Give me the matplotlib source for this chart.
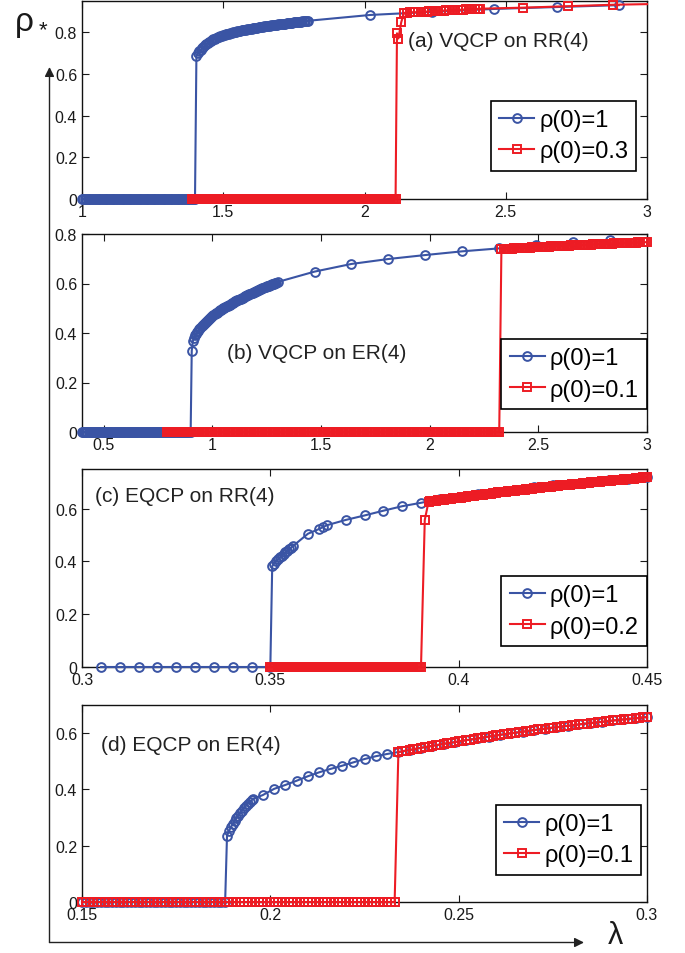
import numpy as np
import matplotlib
matplotlib.use('Agg')
import matplotlib.pyplot as plt
from matplotlib.patches import FancyArrowPatch

plt.rcParams['font.family'] = ['Liberation Sans', 'DejaVu Sans']

BLUE = '#3A54A4'
RED = '#ED1C24'
TXT = '#1a1a1a'

# ---------------- Panel (a) VQCP on RR(4) ----------------
a_blue_zero_x = np.linspace(1.00, 1.40, 81)
a_blue_rise_y = [0.700, 0.708, 0.715, 0.723, 0.730, 0.738, 0.745, 0.750, 0.755, 0.759,
                 0.763, 0.767, 0.770, 0.773, 0.776, 0.779, 0.781, 0.784, 0.786, 0.788,
                 0.790, 0.792, 0.794, 0.796, 0.798, 0.800, 0.801, 0.803, 0.804, 0.806,
                 0.807, 0.809, 0.810, 0.812, 0.813, 0.814, 0.815, 0.817, 0.818, 0.819,
                 0.820, 0.821, 0.822, 0.824, 0.825, 0.826, 0.827, 0.828, 0.829, 0.830,
                 0.831, 0.832, 0.833, 0.834, 0.835, 0.836, 0.837, 0.838, 0.839, 0.840,
                 0.840, 0.841, 0.842, 0.843, 0.844, 0.845, 0.846, 0.846, 0.847, 0.848,
                 0.849, 0.850, 0.851, 0.851, 0.852, 0.853, 0.854, 0.854, 0.855]
a_blue_rise_x = np.linspace(1.41, 1.80, len(a_blue_rise_y))
a_blue_jump_x = [1.405]
a_blue_jump_y = [0.688]
a_blue_sparse_x = [2.02, 2.24, 2.46, 2.68, 2.90]
a_blue_sparse_y = [0.883, 0.898, 0.912, 0.921, 0.930]

a_red_zero_x = np.linspace(1.39, 2.11, 145)
a_red_jump_x = [2.115, 2.12, 2.13]
a_red_jump_y = [0.795, 0.770, 0.848]
a_red_band_y = [0.893, 0.894, 0.895, 0.896, 0.896, 0.897, 0.898, 0.899, 0.899, 0.900,
                0.901, 0.902, 0.902, 0.903, 0.904, 0.905, 0.905, 0.906, 0.907, 0.908,
                0.908, 0.909, 0.910, 0.910, 0.911, 0.912, 0.912, 0.913]
a_red_band_x = np.linspace(2.14, 2.41, len(a_red_band_y))
a_red_sparse_x = [2.56, 2.72, 2.88, 3.00]
a_red_sparse_y = [0.918, 0.925, 0.932, 0.935]

# ---------------- Panel (b) VQCP on ER(4) ----------------
b_blue_zero_x = np.linspace(0.40, 0.90, 101)
b_blue_jump_x = [0.905, 0.91, 0.915]
b_blue_jump_y = [0.328, 0.366, 0.380]
b_blue_rise_y = [0.390, 0.397, 0.404, 0.410, 0.416, 0.422, 0.427, 0.432, 0.437, 0.442,
                 0.446, 0.450, 0.454, 0.458, 0.462, 0.466, 0.469, 0.473, 0.476, 0.479,
                 0.482, 0.485, 0.488, 0.491, 0.494, 0.497, 0.500, 0.503, 0.505, 0.508,
                 0.510, 0.513, 0.515, 0.518, 0.520, 0.523, 0.525, 0.528, 0.530, 0.532,
                 0.534, 0.537, 0.539, 0.541, 0.543, 0.546, 0.548, 0.550, 0.552, 0.554,
                 0.556, 0.558, 0.560, 0.562, 0.564, 0.566, 0.568, 0.570, 0.572, 0.574,
                 0.576, 0.578, 0.580, 0.582, 0.584, 0.586, 0.588, 0.590, 0.591, 0.593,
                 0.595, 0.597, 0.599, 0.600, 0.602, 0.604, 0.606]
b_blue_rise_x = np.linspace(0.92, 1.30, len(b_blue_rise_y))
b_blue_sparse_x = [1.47, 1.64, 1.81, 1.98, 2.15, 2.32, 2.49, 2.66, 2.83]
b_blue_sparse_y = [0.648, 0.679, 0.699, 0.715, 0.730, 0.742, 0.755, 0.766, 0.776]

b_red_zero_x = np.linspace(0.79, 2.32, 154)
b_red_up_y = [0.739, 0.739, 0.740, 0.740, 0.741, 0.741, 0.742, 0.742, 0.743, 0.743,
              0.744, 0.744, 0.745, 0.745, 0.746, 0.746, 0.747, 0.747, 0.748, 0.748,
              0.748, 0.749, 0.749, 0.750, 0.750, 0.751, 0.751, 0.752, 0.752, 0.752,
              0.753, 0.753, 0.754, 0.754, 0.755, 0.755, 0.755, 0.756, 0.756, 0.757,
              0.757, 0.757, 0.758, 0.758, 0.759, 0.759, 0.759, 0.760, 0.760, 0.761,
              0.761, 0.761, 0.762, 0.762, 0.762, 0.763, 0.763, 0.764, 0.764, 0.764,
              0.765, 0.765, 0.765, 0.766, 0.766, 0.766, 0.767, 0.767]
b_red_up_x = np.linspace(2.33, 3.00, len(b_red_up_y))

# ---------------- Panel (c) EQCP on RR(4) ----------------
c_blue_zero_x = np.linspace(0.305, 0.350, 10)
c_blue_rise_y = [0.382, 0.392, 0.400, 0.408, 0.415, 0.422, 0.428, 0.435, 0.441, 0.447, 0.452, 0.458]
c_blue_rise_x = np.linspace(0.3505, 0.356, len(c_blue_rise_y))
c_blue_sparse_x = [0.360, 0.363, 0.364, 0.365, 0.370, 0.375, 0.380, 0.385, 0.390,
                   0.395, 0.400, 0.405, 0.410, 0.415, 0.420, 0.425, 0.430, 0.435, 0.440, 0.445, 0.450]
c_blue_sparse_y = [0.505, 0.523, 0.530, 0.537, 0.557, 0.574, 0.592, 0.609, 0.622,
                   0.636, 0.645, 0.654, 0.663, 0.672, 0.680, 0.688, 0.695, 0.702, 0.708, 0.713, 0.718]

c_red_zero_x = np.linspace(0.350, 0.390, 81)
c_red_jump_x = [0.391]
c_red_jump_y = [0.557]
c_red_up_y = [0.626, 0.627, 0.628, 0.629, 0.630, 0.631, 0.632, 0.633, 0.634, 0.635,
              0.636, 0.637, 0.638, 0.639, 0.640, 0.641, 0.642, 0.642, 0.643, 0.644,
              0.645, 0.646, 0.647, 0.648, 0.649, 0.650, 0.651, 0.652, 0.653, 0.653,
              0.654, 0.655, 0.656, 0.657, 0.658, 0.659, 0.660, 0.661, 0.662, 0.662,
              0.663, 0.664, 0.665, 0.666, 0.667, 0.667, 0.668, 0.669, 0.670, 0.671,
              0.672, 0.672, 0.673, 0.674, 0.675, 0.676, 0.677, 0.677, 0.678, 0.679,
              0.680, 0.680, 0.681, 0.682, 0.683, 0.683, 0.684, 0.685, 0.686, 0.687,
              0.688, 0.688, 0.689, 0.690, 0.691, 0.691, 0.692, 0.693, 0.694, 0.694,
              0.695, 0.695, 0.696, 0.697, 0.698, 0.698, 0.699, 0.700, 0.701, 0.701,
              0.702, 0.702, 0.703, 0.704, 0.705, 0.705, 0.706, 0.706, 0.707, 0.708,
              0.709, 0.709, 0.710, 0.710, 0.711, 0.712, 0.713, 0.713, 0.714, 0.714,
              0.715, 0.715, 0.716, 0.717, 0.718, 0.718, 0.719]
c_red_up_x = np.linspace(0.392, 0.450, len(c_red_up_y))

# ---------------- Panel (d) EQCP on ER(4) ----------------
d_blue_zero_x = np.linspace(0.150, 0.188, 39)
d_blue_rise_y = [0.236, 0.252, 0.265, 0.277, 0.287, 0.298, 0.307, 0.316, 0.325, 0.333,
                 0.341, 0.348, 0.355, 0.361, 0.367]
d_blue_rise_x = np.linspace(0.1885, 0.1955, len(d_blue_rise_y))
d_blue_sparse_y = [0.380, 0.402, 0.416, 0.431, 0.447, 0.461, 0.473, 0.484, 0.496, 0.508,
                   0.518, 0.526, 0.533, 0.540, 0.548, 0.555, 0.562, 0.568, 0.575, 0.581,
                   0.588, 0.594, 0.600, 0.605, 0.611, 0.616, 0.621, 0.626, 0.631, 0.636,
                   0.640, 0.645, 0.649, 0.653, 0.657]
d_blue_sparse_x = np.linspace(0.198, 0.300, len(d_blue_sparse_y))

d_red_zero_x = np.linspace(0.150, 0.233, 84)
d_red_up_y = [0.533, 0.535, 0.538, 0.540, 0.543, 0.545, 0.548, 0.550, 0.552, 0.555,
              0.557, 0.559, 0.562, 0.564, 0.566, 0.568, 0.571, 0.573, 0.575, 0.577,
              0.579, 0.581, 0.583, 0.586, 0.588, 0.590, 0.592, 0.594, 0.596, 0.598,
              0.600, 0.601, 0.603, 0.605, 0.607, 0.609, 0.611, 0.613, 0.614, 0.616,
              0.618, 0.620, 0.621, 0.623, 0.625, 0.626, 0.628, 0.630, 0.631, 0.633,
              0.634, 0.636, 0.637, 0.639, 0.640, 0.642, 0.643, 0.645, 0.646, 0.648,
              0.649, 0.650, 0.652, 0.653, 0.654, 0.656, 0.657]
d_red_up_x = np.linspace(0.234, 0.300, len(d_red_up_y))

# ---------------- assemble ----------------
def cat(*parts):
    return np.concatenate([np.asarray(p, dtype=float) for p in parts])

panels = [
    dict(bx=cat(a_blue_zero_x, a_blue_jump_x, a_blue_rise_x, a_blue_sparse_x),
         by=cat(np.zeros(len(a_blue_zero_x)), a_blue_jump_y, a_blue_rise_y, a_blue_sparse_y),
         rx=cat(a_red_zero_x, a_red_jump_x, a_red_band_x, a_red_sparse_x),
         ry=cat(np.zeros(len(a_red_zero_x)), a_red_jump_y, a_red_band_y, a_red_sparse_y),
         rlabel='ρ(0)=0.3', xlim=(1, 3), ylim=(0, 0.95), red_last_nomark=True,
         xt=[1, 1.5, 2, 2.5, 3], xtl=['1', '1.5', '2', '2.5', '3'],
         yt=[0, 0.2, 0.4, 0.6, 0.8], ytl=['0', '0.2', '0.4', '0.6', '0.8'],
         title='(a) VQCP on RR(4)', tpos=(0.577, 0.80),
         leg=(0.981, 0.497), rect=(2, 200)),
    dict(bx=cat(b_blue_zero_x, b_blue_jump_x, b_blue_rise_x, b_blue_sparse_x),
         by=cat(np.zeros(len(b_blue_zero_x)), b_blue_jump_y, b_blue_rise_y, b_blue_sparse_y),
         rx=cat(b_red_zero_x, b_red_up_x),
         ry=cat(np.zeros(len(b_red_zero_x)), b_red_up_y),
         rlabel='ρ(0)=0.1', xlim=(0.4, 3), ylim=(0, 0.8), red_last_nomark=False,
         xt=[0.5, 1, 1.5, 2, 2.5, 3], xtl=['0.5', '1', '1.5', '2', '2.5', '3'],
         yt=[0, 0.2, 0.4, 0.6, 0.8], ytl=['0', '0.2', '0.4', '0.6', '0.8'],
         title='(b) VQCP on ER(4)', tpos=(0.257, 0.40),
         leg=(1.0, 0.47), rect=(235, 433)),
    dict(bx=cat(c_blue_zero_x, c_blue_rise_x, c_blue_sparse_x),
         by=cat(np.zeros(len(c_blue_zero_x)), c_blue_rise_y, c_blue_sparse_y),
         rx=cat(c_red_zero_x, c_red_jump_x, c_red_up_x),
         ry=cat(np.zeros(len(c_red_zero_x)), c_red_jump_y, c_red_up_y),
         rlabel='ρ(0)=0.2', xlim=(0.3, 0.45), ylim=(0, 0.75), red_last_nomark=False,
         xt=[0.3, 0.35, 0.4, 0.45], xtl=['0.3', '0.35', '0.4', '0.45'],
         yt=[0, 0.2, 0.4, 0.6], ytl=['0', '0.2', '0.4', '0.6'],
         title='(c) EQCP on RR(4)', tpos=(0.0225, 0.864),
         leg=(1.0, 0.46), rect=(470, 668)),
    dict(bx=cat(d_blue_zero_x, d_blue_rise_x, d_blue_sparse_x),
         by=cat(np.zeros(len(d_blue_zero_x)), d_blue_rise_y, d_blue_sparse_y),
         rx=cat(d_red_zero_x, d_red_up_x),
         ry=cat(np.zeros(len(d_red_zero_x)), d_red_up_y),
         rlabel='ρ(0)=0.1', xlim=(0.15, 0.3), ylim=(0, 0.7), red_last_nomark=False,
         xt=[0.15, 0.2, 0.25, 0.3], xtl=['0.15', '0.2', '0.25', '0.3'],
         yt=[0, 0.2, 0.4, 0.6], ytl=['0', '0.2', '0.4', '0.6'],
         title='(d) EQCP on ER(4)', tpos=(0.034, 0.797),
         leg=(0.99, 0.494), rect=(706, 903)),
]

W, H = 685, 954
fig = plt.figure(figsize=(W / 100, H / 100), dpi=100)

for p in panels:
    top, bot = p['rect']
    ax = fig.add_axes([82 / W, 1 - bot / H, 565 / W, (bot - top) / H])
    ax.plot(p['bx'], p['by'], '-o', color=BLUE, mfc='none', ms=6.3, mew=1.4, lw=1.5,
            label='ρ(0)=1', clip_on=False, zorder=3)
    n = len(p['rx'])
    mev = list(range(n - 1)) if p['red_last_nomark'] else None
    ax.plot(p['rx'], p['ry'], '-s', color=RED, mfc='none', ms=5.8, mew=1.4, lw=1.5,
            label=p['rlabel'], clip_on=False, zorder=4, markevery=mev)
    ax.set_xlim(*p['xlim'])
    ax.set_ylim(*p['ylim'])
    ax.set_xticks(p['xt'])
    ax.set_xticklabels(p['xtl'])
    ax.set_yticks(p['yt'])
    ax.set_yticklabels(p['ytl'])
    ax.tick_params(direction='in', top=True, right=True, length=5, width=0.8,
                   labelsize=11.5, pad=3.5, colors=TXT)
    for s in ax.spines.values():
        s.set_linewidth(1.0)
        s.set_color('#111111')
    ax.text(p['tpos'][0], p['tpos'][1], p['title'], transform=ax.transAxes,
            fontsize=15, color='#222222', ha='left', va='center')
    leg = ax.legend(loc='upper right', bbox_to_anchor=p['leg'], borderaxespad=0,
                    fontsize=17, handlelength=1.5, handletextpad=0.2, borderpad=0.35,
                    labelspacing=0.4, fancybox=False, framealpha=1, numpoints=1)
    leg.get_frame().set_edgecolor('black')
    leg.get_frame().set_linewidth(1.2)
    leg.set_zorder(10)

# outer axis arrows
def fx(px):
    return px / W

def fy(py):
    return 1 - py / H

ax_col = '#222222'
fig.add_artist(FancyArrowPatch((fx(49.5), fy(943.5)), (fx(49.5), fy(68)),
                               transform=fig.transFigure, arrowstyle='-|>',
                               mutation_scale=14, lw=1.0, color=ax_col,
                               shrinkA=0, shrinkB=0))
fig.add_artist(FancyArrowPatch((fx(49.5), fy(943.5)), (fx(584), fy(943.5)),
                               transform=fig.transFigure, arrowstyle='-|>',
                               mutation_scale=14, lw=1.0, color=ax_col,
                               shrinkA=0, shrinkB=0))
fig.text(fx(24), fy(22), 'ρ', fontsize=24, ha='center', va='center', color=TXT)
fig.text(fx(43), fy(31), '*', fontsize=16, ha='center', va='center', color=TXT)
fig.text(fx(615), fy(936), 'λ', fontsize=22, ha='center', va='center', color=TXT)

fig.savefig('out.png', dpi=100)
